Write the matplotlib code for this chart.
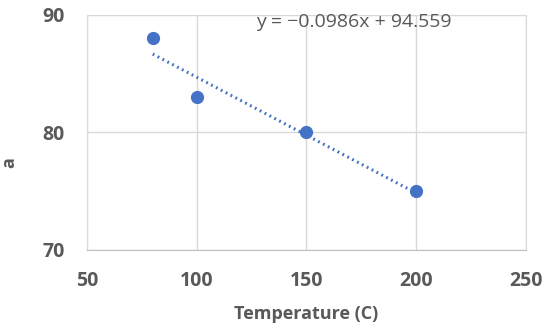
import numpy as np
import matplotlib
matplotlib.use("Agg")
import matplotlib.pyplot as plt

plt.rcParams['font.family'] = ['Open Sans', 'DejaVu Sans']

# data
temperature = [80, 100, 150, 200]
a_values = [88, 83, 80, 75]
x_ticks = [50, 100, 150, 200, 250]
y_ticks = [70, 80, 90]

blue = '#4472C4'
grid_c = '#D9D9D9'
text_c = '#595959'

fig = plt.figure(figsize=(5.5, 3.32), dpi=100)
ax = fig.add_axes([0.158, 0.247, 0.798, 0.708])

# linear trendline, same as the spreadsheet fit
slope, intercept = np.polyfit(temperature, a_values, 1)
xs = np.array([min(temperature), max(temperature)])
ax.plot(xs, slope * xs + intercept, linestyle=(0, (0.6, 1.2)), color=blue,
        linewidth=2.2, zorder=3)

ax.plot(temperature, a_values, 'o', color=blue, markersize=8.5, zorder=4)

ax.set_xlim(50, 250)
ax.set_ylim(70, 90)
ax.set_xticks(x_ticks)
ax.set_yticks(y_ticks)
ax.grid(True, color=grid_c, linewidth=1.0)
ax.set_axisbelow(True)
for side in ['top', 'right', 'left']:
    ax.spines[side].set_color(grid_c)
ax.spines['bottom'].set_color('#BFBFBF')
ax.tick_params(length=0, labelsize=14, colors=text_c)
for lbl in ax.get_xticklabels() + ax.get_yticklabels():
    lbl.set_fontweight('bold')
ax.tick_params(axis='x', pad=15)
ax.tick_params(axis='y', pad=16)

ax.set_xlabel('Temperature (C)', fontsize=13, fontweight='bold', color=text_c, labelpad=10)
ax.set_ylabel('a', fontsize=13, fontweight='bold', color=text_c)
ax.yaxis.set_label_coords(-0.157, 0.37)

sign = '\u2212' if slope < 0 else '+'
ax.text(127, 89.4, f'y = {sign}{abs(slope):.4f}x + {intercept:.3f}',
        fontsize=14, color=text_c, va='center', ha='left')

fig.savefig('out.png', dpi=100)
